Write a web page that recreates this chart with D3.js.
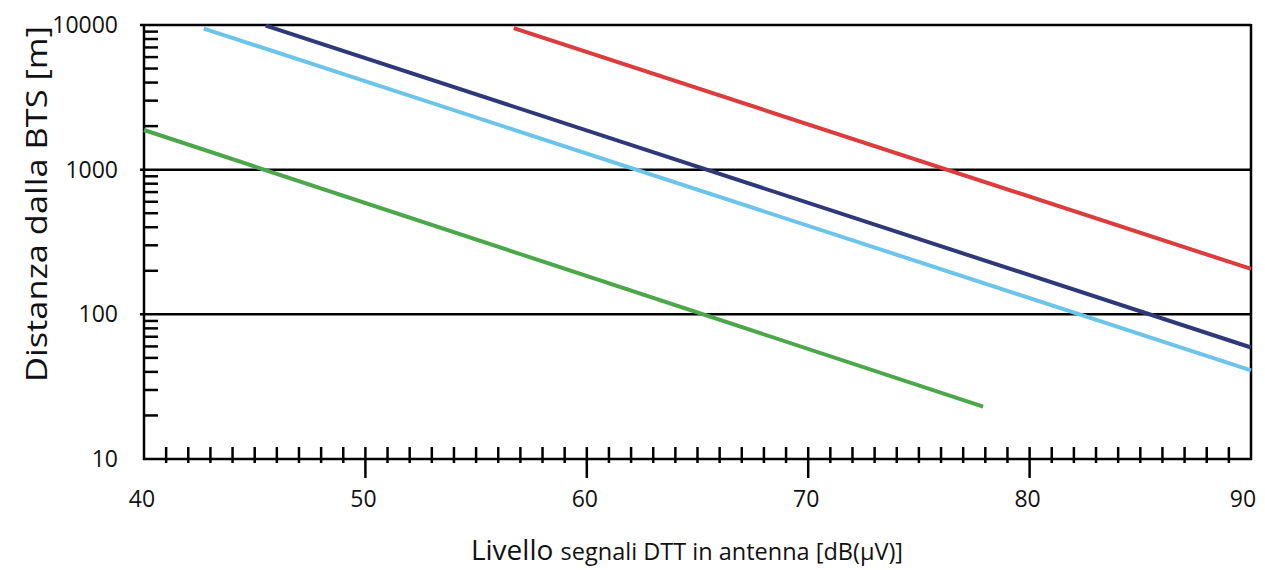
<!DOCTYPE html>
<html>
<head>
<meta charset="utf-8">
<script src="https://cdn.jsdelivr.net/npm/d3@7"></script>
<style>
  body { margin: 0; background: #fff; }
  text { font-family: "Open Sans", "Noto Sans", sans-serif; fill: #111; }
</style>
</head>
<body>
<svg width="1265" height="570"></svg>
<script>
// tick labels
var xTicks = [40, 50, 60, 70, 80, 90];
var yTicks = [10, 100, 1000, 10000];

// each series: start / end points [dB(uV), metres]
var seriesNames = ["red", "navy", "lightblue", "green"];
var seriesColors = ["#dc3c3c", "#2f3878", "#6cc4ea", "#4ca74a"];
var redLine = [[56.7, 9500], [90, 206]];
var navyLine = [[45.5, 9900], [90, 59]];
var lightBlueLine = [[42.7, 9450], [90, 41]];
var greenLine = [[40, 1880], [77.9, 23]];
var allLines = [redLine, navyLine, lightBlueLine, greenLine];

var svg = d3.select("svg");

var xScale = d3.scaleLinear()
    .domain([40, 90])
    .range([144, 1251]);

var yScale = d3.scaleLog()
    .domain([10, 10000])
    .range([459, 25]);

// horizontal lines at decades + frame
yTicks.forEach(function(v) {
    if (v === 10) return;
    svg.append("line")
        .attr("x1", xScale(40) - 4)
        .attr("x2", xScale(90))
        .attr("y1", yScale(v))
        .attr("y2", yScale(v))
        .attr("stroke", "#000")
        .attr("stroke-width", 2.5);
});
svg.append("line")
    .attr("x1", xScale(90)).attr("x2", xScale(90))
    .attr("y1", yScale(10000) - 1).attr("y2", yScale(10) + 1)
    .attr("stroke", "#000").attr("stroke-width", 2.5);

// y minor ticks (2..9 in each decade)
var yMinor = [];
[10, 100, 1000].forEach(function(d) {
    for (var k = 2; k <= 9; k++) yMinor.push(d * k);
});
svg.selectAll(".yminor")
    .data(yMinor)
    .enter()
    .append("line")
    .attr("x1", xScale(40))
    .attr("x2", xScale(40) + 14)
    .attr("y1", function(d) { return yScale(d); })
    .attr("y2", function(d) { return yScale(d); })
    .attr("stroke", "#000")
    .attr("stroke-width", 2.5);

// x ticks every 1 dB
var xMinor = d3.range(41, 90);
svg.selectAll(".xminor")
    .data(xMinor)
    .enter()
    .append("line")
    .attr("x1", function(d) { return xScale(d); })
    .attr("x2", function(d) { return xScale(d); })
    .attr("y1", yScale(10) - 12)
    .attr("y2", function(d) { return d % 10 === 0 ? yScale(10) + 19 : yScale(10) + 4; })
    .attr("stroke", "#000")
    .attr("stroke-width", 2.5);

// axes lines
svg.append("line")
    .attr("x1", xScale(40)).attr("x2", xScale(40))
    .attr("y1", yScale(10000) - 1).attr("y2", yScale(10) + 1)
    .attr("stroke", "#000").attr("stroke-width", 2.5);
svg.append("line")
    .attr("x1", xScale(40) - 1).attr("x2", xScale(90) + 1)
    .attr("y1", yScale(10)).attr("y2", yScale(10))
    .attr("stroke", "#000").attr("stroke-width", 2.5);

// tick labels
svg.selectAll(".xlab")
    .data(xTicks)
    .enter()
    .append("text")
    .attr("x", function(d) { return xScale(d) + (d === 90 ? -8 : -2); })
    .attr("y", 507)
    .attr("text-anchor", "middle")
    .attr("font-size", 23)
    .text(function(d) { return d; });

svg.selectAll(".ylab")
    .data(yTicks)
    .enter()
    .append("text")
    .attr("x", 118)
    .attr("y", function(d) { return yScale(d) + 8; })
    .attr("text-anchor", "end")
    .attr("font-size", 23)
    .text(function(d) { return d; });

// series
var line = d3.line()
    .x(function(d) { return xScale(d[0]); })
    .y(function(d) { return yScale(d[1]); });

svg.selectAll(".series")
    .data(allLines)
    .enter()
    .append("path")
    .attr("d", line)
    .attr("fill", "none")
    .attr("stroke", function(d, i) { return seriesColors[i]; })
    .attr("stroke-width", 4);

// axis titles
svg.append("text")
    .attr("transform", "translate(47,204) rotate(-90)")
    .attr("text-anchor", "middle")
    .attr("font-size", 29)
    .attr("textLength", 356)
    .attr("lengthAdjust", "spacingAndGlyphs")
    .text("Distanza dalla BTS [m]");

var xt = svg.append("text")
    .attr("x", 687)
    .attr("y", 560)
    .attr("text-anchor", "middle")
    .attr("font-size", 23.5);
xt.append("tspan").attr("font-size", 28).text("Livello ");
xt.append("tspan").text("segnali DTT in antenna [dB(µV)]");
</script>
</body>
</html>
